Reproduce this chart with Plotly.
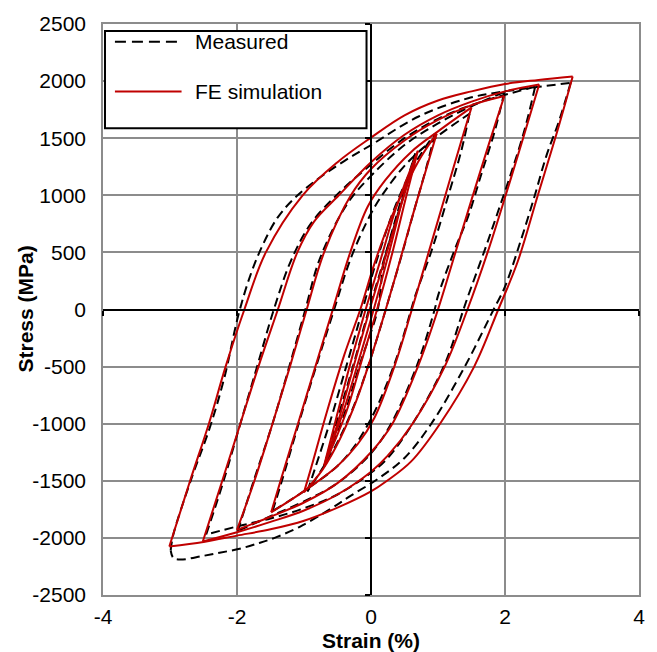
import plotly.graph_objects as go

# ---------------- tick labels ----------------
x_ticks = [-4, -2, 0, 2, 4]
y_ticks = [-2500, -2000, -1500, -1000, -500, 0, 500, 1000, 1500, 2000, 2500]

# ---------------- FE simulation (strain %, stress MPa) ----------------
fe30_down_strain = [3.01, 2.79, 2.49, 2.19, 1.90, 1.54, 1.03, 0.60, 0.24, 0.0, -0.5, -1.0, -1.5, -2.0, -2.5, -3.01]
fe30_down_stress = [2040, 1580, 1000, 420, 0, -500, -1000, -1330, -1500, -1593, -1735, -1850, -1925, -1980, -2035, -2075]
fe30_up_strain = [-3.01, -2.70, -2.42, -2.17, -1.89, -1.57, -1.02, -0.50, 0.0, 0.5, 1.0, 1.5, 2.0, 2.5, 3.01]
fe30_up_stress = [-2075, -1500, -1000, -500, 0, 500, 1000, 1290, 1505, 1700, 1830, 1910, 1975, 2010, 2040]

fe25_down_strain = [2.51, 2.27, 2.01, 1.74, 1.44, 1.10, 0.62, 0.25, 0.0, -0.5, -1.0, -1.5, -2.0, -2.51]
fe25_down_stress = [1970, 1500, 1000, 500, 0, -500, -1000, -1280, -1420, -1620, -1760, -1860, -1950, -2031]
fe25_up_strain = [-2.51, -2.22, -1.95, -1.68, -1.39, -1.10, -0.85, -0.48, 0.0, 0.5, 1.0, 1.5, 2.0, 2.51]
fe25_up_stress = [-2031, -1500, -1000, -500, 0, 500, 770, 1000, 1290, 1530, 1700, 1820, 1910, 1970]

fe20_down_strain = [1.99, 1.76, 1.50, 1.25, 1.00, 0.70, 0.32, 0.0, -0.5, -1.0, -1.5, -2.0]
fe20_down_stress = [1870, 1450, 960, 480, 0, -500, -1000, -1250, -1520, -1690, -1815, -1930]
fe20_up_strain = [-2.0, -1.74, -1.47, -1.21, -0.96, -0.70, -0.30, 0.0, 0.5, 1.0, 1.5, 1.99]
fe20_up_stress = [-1930, -1500, -1000, -500, 0, 500, 1000, 1230, 1480, 1660, 1790, 1870]

fe15_down_strain = [1.50, 1.36, 1.11, 0.86, 0.61, 0.36, 0.05, -0.2, -0.5, -1.0, -1.49]
fe15_down_stress = [1770, 1500, 1000, 500, 0, -480, -950, -1180, -1370, -1590, -1776]
fe15_up_strain = [-1.49, -1.35, -1.09, -0.83, -0.57, -0.31, -0.05, 0.21, 0.6, 1.0, 1.50]
fe15_up_stress = [-1776, -1500, -1000, -500, 0, 500, 900, 1130, 1380, 1560, 1770]

fe10_down_strain = [0.98, 0.86, 0.62, 0.37, 0.22, 0.0, -0.22, -0.46, -0.72, -1.0]
fe10_down_stress = [1540, 1300, 820, 300, 0, -420, -800, -1130, -1400, -1600]
fe10_up_strain = [-1.0, -0.90, -0.66, -0.40, -0.16, 0.05, 0.30, 0.55, 0.75, 0.98]
fe10_up_stress = [-1600, -1400, -900, -400, 0, 400, 800, 1120, 1340, 1540]

fe07_down_strain = [0.70, 0.53, 0.32, 0.09, -0.14, -0.37, -0.70]
fe07_down_stress = [1390, 1000, 500, 0, -450, -900, -1366]
fe07_up_strain = [-0.70, -0.54, -0.32, -0.08, 0.15, 0.38, 0.70]
fe07_up_stress = [-1366, -1000, -500, 0, 450, 900, 1390]

fe06_down_strain = [0.67, 0.49, 0.27, 0.04, -0.18, -0.40, -0.67]
fe06_down_stress = [1340, 1000, 500, 0, -440, -870, -1310]
fe06_up_strain = [-0.67, -0.50, -0.26, -0.02, 0.20, 0.42, 0.67]
fe06_up_stress = [-1310, -1000, -500, 0, 430, 860, 1340]

# ---------------- Measured ----------------
me30_down_strain = [2.98, 2.81, 2.62, 2.44, 2.24, 2.00, 1.83, 1.40, 0.90, 0.50, 0.11, -0.30, -0.60, -1.07, -1.42, -1.67, -1.96, -2.26, -2.51, -2.85, -2.95, -2.99]
me30_down_stress = [1985, 1656, 1350, 990, 612, 200, 0, -500, -1000, -1300, -1480, -1630, -1745, -1905, -1995, -2045, -2095, -2130, -2158, -2190, -2175, -2110]
me30_up_strain = [-2.99, -2.95, -2.66, -2.41, -2.19, -1.98, -1.80, -1.62, -1.40, -1.15, -0.80, -0.40, 0.0, 0.71, 1.45, 1.99, 2.51, 2.98]
me30_up_stress = [-2110, -1970, -1447, -1042, -600, -50, 300, 560, 800, 970, 1140, 1300, 1440, 1690, 1850, 1910, 1950, 1985]

me25_down_strain = [2.45, 2.29, 2.09, 1.88, 1.70, 1.45, 1.38, 1.10, 0.62, 0.25, 0.0, -0.5, -1.0, -1.5, -2.0, -2.46]
me25_down_stress = [1950, 1569, 1192, 830, 525, 119, 0, -480, -1000, -1300, -1430, -1620, -1740, -1830, -1900, -1970]
me25_up_strain = [-2.46, -2.20, -1.95, -1.70, -1.45, -1.20, -0.90, -0.50, 0.0, 0.5, 1.0, 1.5, 2.0, 2.45]
me25_up_stress = [-1970, -1500, -1000, -500, 0, 420, 750, 1010, 1270, 1500, 1670, 1790, 1880, 1950]

me20_down_strain = [1.99, 1.85, 1.65, 1.45, 1.25, 1.00, 0.95, 0.68, 0.30, 0.0, -0.5, -1.0, -1.5, -1.99]
me20_down_stress = [1903, 1569, 1192, 815, 525, 119, 0, -500, -1000, -1260, -1520, -1680, -1810, -1941]
me20_up_strain = [-1.99, -1.75, -1.47, -1.22, -0.98, -0.76, -0.35, 0.0, 0.5, 1.0, 1.5, 1.99]
me20_up_stress = [-1941, -1500, -1000, -500, 0, 450, 930, 1170, 1440, 1630, 1780, 1903]

me15_down_strain = [1.47, 1.35, 1.15, 0.91, 0.66, 0.60, 0.36, 0.05, -0.25, -0.5, -1.0, -1.47]
me15_down_stress = [1714, 1395, 990, 525, 119, 0, -460, -900, -1200, -1370, -1590, -1767]
me15_up_strain = [-1.47, -1.33, -1.08, -0.82, -0.55, -0.30, 0.0, 0.20, 0.55, 1.0, 1.47]
me15_up_stress = [-1767, -1500, -1000, -500, 0, 450, 840, 1030, 1290, 1520, 1714]

me10_down_strain = [0.955, 0.82, 0.64, 0.47, 0.27, 0.22, 0.0, -0.28, -0.58, -0.95]
me10_down_stress = [1540, 1230, 860, 500, 100, 0, -420, -880, -1250, -1593]
me10_up_strain = [-0.95, -0.84, -0.62, -0.38, -0.15, 0.08, 0.36, 0.65, 0.955]
me10_up_stress = [-1593, -1400, -1000, -520, -50, 420, 900, 1270, 1540]

me07_down_strain = [0.66, 0.51, 0.36, 0.19, 0.10, -0.15, -0.40, -0.70]
me07_down_stress = [1366, 1047, 757, 409, 0, -450, -920, -1375]
me07_up_strain = [-0.70, -0.52, -0.27, -0.03, 0.20, 0.42, 0.66]
me07_up_stress = [-1375, -1000, -500, 0, 450, 900, 1366]

measured = [
    (me30_down_strain, me30_down_stress), (me30_up_strain, me30_up_stress),
    (me25_down_strain, me25_down_stress), (me25_up_strain, me25_up_stress),
    (me20_down_strain, me20_down_stress), (me20_up_strain, me20_up_stress),
    (me15_down_strain, me15_down_stress), (me15_up_strain, me15_up_stress),
    (me10_down_strain, me10_down_stress), (me10_up_strain, me10_up_stress),
    (me07_down_strain, me07_down_stress), (me07_up_strain, me07_up_stress),
]
simulated = [
    (fe30_down_strain, fe30_down_stress), (fe30_up_strain, fe30_up_stress),
    (fe25_down_strain, fe25_down_stress), (fe25_up_strain, fe25_up_stress),
    (fe20_down_strain, fe20_down_stress), (fe20_up_strain, fe20_up_stress),
    (fe15_down_strain, fe15_down_stress), (fe15_up_strain, fe15_up_stress),
    (fe10_down_strain, fe10_down_stress), (fe10_up_strain, fe10_up_stress),
    (fe07_down_strain, fe07_down_stress), (fe07_up_strain, fe07_up_stress),
    (fe06_down_strain, fe06_down_stress), (fe06_up_strain, fe06_up_stress),
]

RED = "#C00000"
FONT = "Liberation Sans, Arial, sans-serif"

fig = go.Figure()
for xs, ys in measured:
    fig.add_trace(go.Scatter(x=xs, y=ys, mode="lines", name="Measured",
                             legendgroup="m", showlegend=False,
                             line=dict(color="black", width=2, dash="9px,5px",
                                       shape="spline", smoothing=1.0)))
for xs, ys in simulated:
    fig.add_trace(go.Scatter(x=xs, y=ys, mode="lines", name="FE simulation",
                             legendgroup="f", showlegend=False,
                             line=dict(color=RED, width=2,
                                       shape="spline", smoothing=1.0)))

# invisible trace to host the axis drawn through the origin
fig.add_trace(go.Scatter(x=[None], y=[None], xaxis="x2", yaxis="y2",
                         showlegend=False, hoverinfo="skip"))

grid = "#8c8c8c"
fig.update_layout(
    width=657, height=652,
    margin=dict(l=103, r=15, t=20, b=57),
    paper_bgcolor="white", plot_bgcolor="white",
    font=dict(family=FONT, size=21, color="black"),
    showlegend=False,
    xaxis=dict(range=[-4, 4], tickvals=x_ticks, ticktext=[str(v) for v in x_ticks],
               showgrid=True, gridcolor=grid, gridwidth=1.5,
               zeroline=True, zerolinecolor="black", zerolinewidth=2,
               showline=True, mirror=True, linecolor=grid, linewidth=1.5,
               ticks="", ticklabelstandoff=2, tickfont=dict(size=21)),
    yaxis=dict(range=[-2500, 2500], tickvals=y_ticks, ticktext=[str(v) for v in y_ticks],
               showgrid=True, gridcolor=grid, gridwidth=1.5,
               zeroline=True, zerolinecolor="black", zerolinewidth=2,
               showline=True, mirror=True, linecolor=grid, linewidth=1.5,
               ticks="", ticklabelstandoff=11, tickfont=dict(size=21)),
    xaxis2=dict(range=[-4, 4], overlaying="x", anchor="free", position=0.5,
                tickvals=x_ticks, ticks="outside", ticklen=5, tickwidth=2, tickcolor="black",
                showticklabels=False, showgrid=False, zeroline=False,
                showline=True, linecolor="black", linewidth=2),
    yaxis2=dict(range=[-2500, 2500], overlaying="y", anchor="free", position=0.5,
                tickvals=y_ticks, ticks="outside", ticklen=5, tickwidth=2, tickcolor="black",
                showticklabels=False, showgrid=False, zeroline=False,
                showline=True, linecolor="black", linewidth=2),
)

# axis titles
fig.add_annotation(text="<b>Strain (%)</b>", xref="paper", yref="paper", x=0.5, y=0,
                   yshift=-45, showarrow=False, font=dict(size=21), yanchor="middle")
fig.add_annotation(text="<b>Stress (MPa)</b>", xref="paper", yref="paper", x=0, y=0.5,
                   xshift=-78, textangle=-90, showarrow=False, font=dict(size=21),
                   xanchor="center")

# manual legend box (paper coordinates)
def px_x(p):
    return (p - 103) / 539.0

def px_y(p):
    return (595 - p) / 575.0

fig.add_shape(type="rect", xref="paper", yref="paper",
              x0=px_x(105), x1=px_x(368), y0=px_y(125), y1=px_y(27),
              line=dict(color="black", width=2), fillcolor="white", layer="above")
fig.add_shape(type="line", xref="paper", yref="paper",
              x0=px_x(115), x1=px_x(182), y0=px_y(38), y1=px_y(38),
              line=dict(color="black", width=2, dash="11px,6px"), layer="above")
fig.add_shape(type="line", xref="paper", yref="paper",
              x0=px_x(115), x1=px_x(182), y0=px_y(88), y1=px_y(88),
              line=dict(color=RED, width=2), layer="above")
fig.add_annotation(text="Measured", xref="paper", yref="paper", x=px_x(194), y=px_y(38),
                   xanchor="left", yanchor="middle", showarrow=False, font=dict(size=21))
fig.add_annotation(text="FE simulation", xref="paper", yref="paper", x=px_x(194), y=px_y(88),
                   xanchor="left", yanchor="middle", showarrow=False, font=dict(size=21))

fig.write_html("out.html")
